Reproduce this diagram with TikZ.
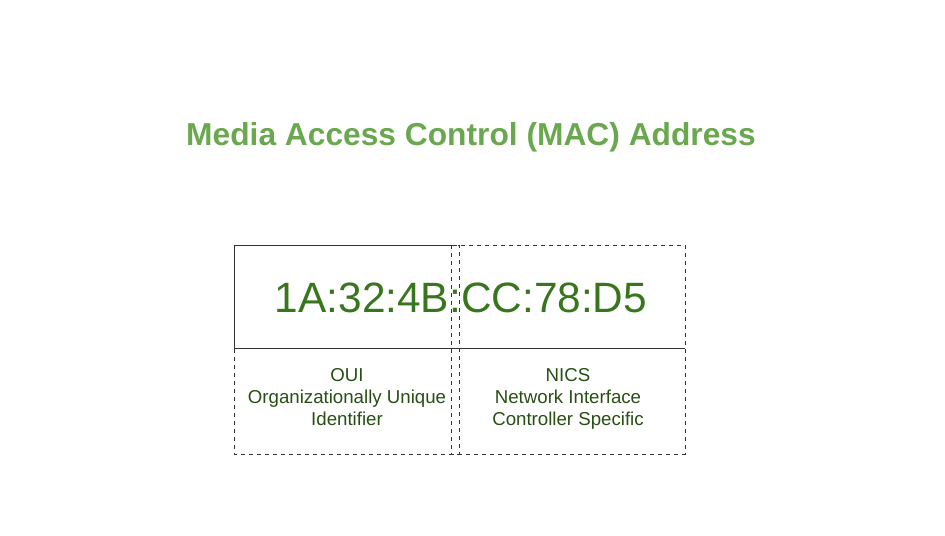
\documentclass[tikz,border=0pt]{standalone}
\usepackage{fontspec}
\setmainfont{Liberation Sans}
\usepackage{xcolor}
\usepackage{tikz}
\definecolor{titlegreen}{HTML}{6AA84F}
\definecolor{macgreen}{HTML}{38761D}
\definecolor{labelgreen}{HTML}{274E13}
\begin{document}
\begin{tikzpicture}[x=0.75pt, y=-0.75pt,
	part/.style={draw=black!80, dashed, line width=0.6pt},
	label/.style={text=labelgreen, align=center, font=\fontsize{14}{16.5}\selectfont}]
		\useasboundingbox (0,0) rectangle (945,535);

		\node[text=titlegreen, font=\fontsize{23.8}{28}\selectfont\bfseries] (title) at (471,137) {Media Access Control (MAC) Address};
		\node[text=macgreen, font=\fontsize{31.8}{38}\selectfont] (mac) at (461,298) {1A:32:4B:CC:78:D5};
		\node[label] (oui) at (347,397) {OUI\\Organizationally Unique\\Identifier};
		\node[label] (nics) at (568,399) {NICS\\Network Interface\\Controller Specific};

		\draw [part] (234,245) rectangle (459,454);
		\draw [part] (451,245) rectangle (685,454);
		\draw [draw=black!80, line width=0.6pt] (451,245) -| (234,348) -- (685,348);

		\end{tikzpicture}
\end{document}
